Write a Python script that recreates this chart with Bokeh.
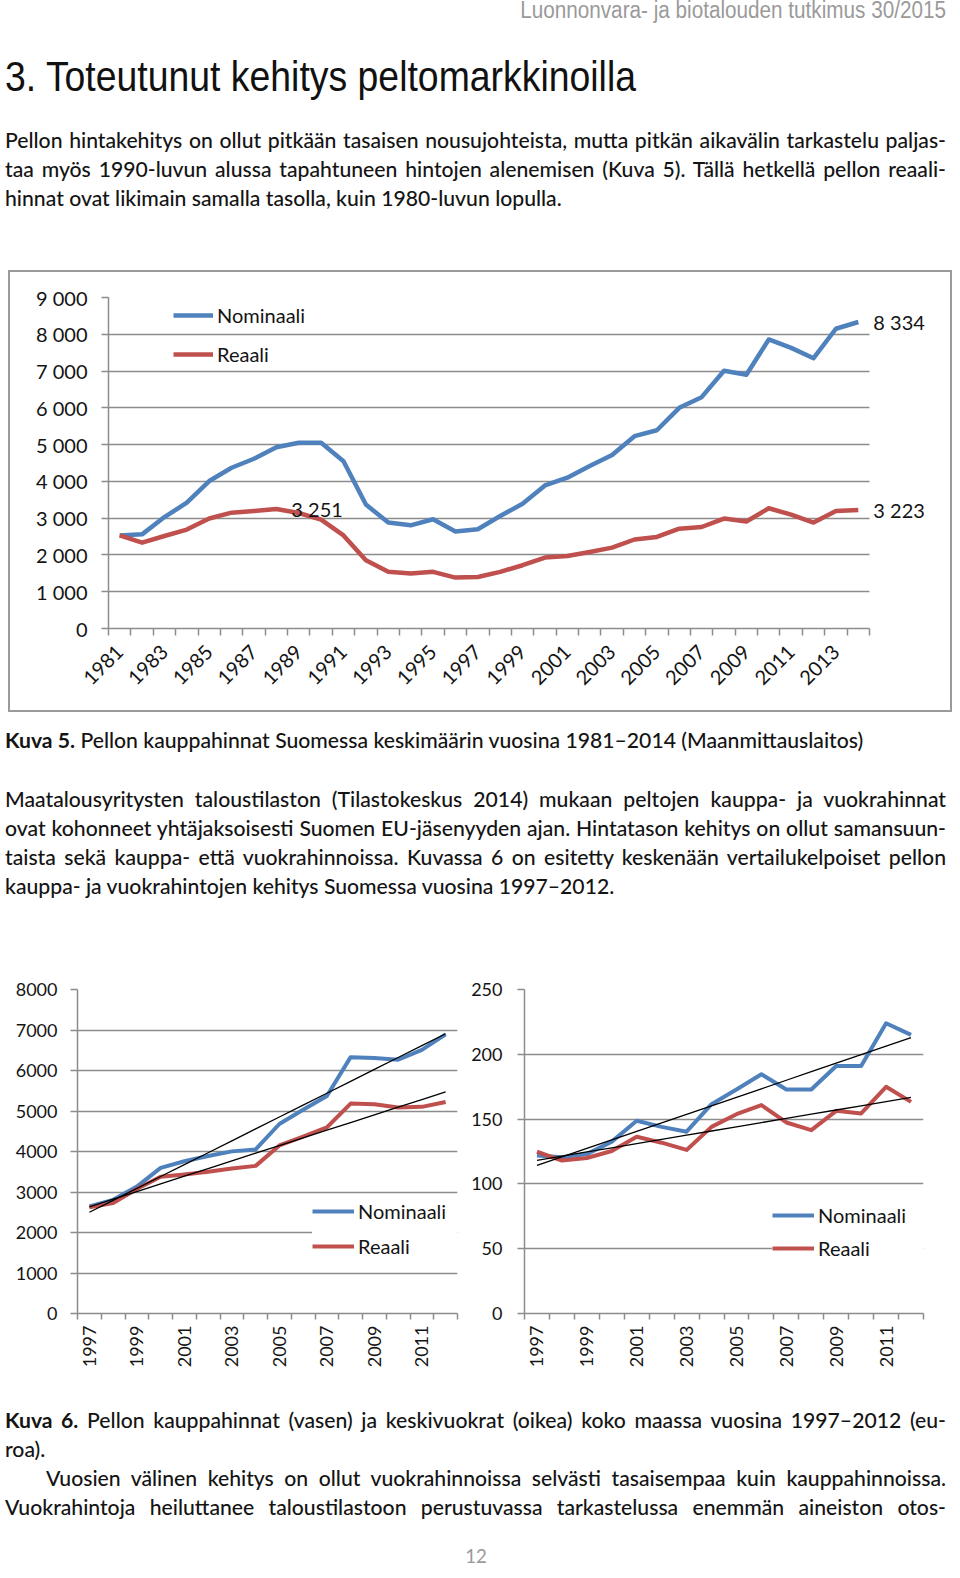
import math
import numpy as np
from bokeh.plotting import figure
from bokeh.models import Div, Range1d, FixedTicker, CustomJSTickFormatter, Label
from bokeh.layouts import column, row
from bokeh.embed import file_html
from bokeh.resources import INLINE

# ---------------- data ----------------
years_k5 = list(range(1981, 2015))
nominaali_k5 = [2530, 2560, 3030, 3420, 4010, 4370, 4615, 4930, 5050, 5050,
                4550, 3370, 2880, 2805, 2970, 2640, 2700, 3060, 3390, 3890,
                4100, 4420, 4720, 5230, 5390, 6000, 6290, 7010, 6900, 7860,
                7630, 7350, 8150, 8334]
reaali_k5 = [2530, 2335, 2515, 2690, 2990, 3150, 3195, 3251, 3140, 2960,
             2530, 1855, 1540, 1495, 1540, 1385, 1400, 1540, 1720, 1930,
             1970, 2080, 2200, 2420, 2490, 2715, 2760, 2990, 2910, 3270,
             3095, 2880, 3195, 3223]
label_years_k5 = list(range(1981, 2014, 2))
y_ticks_k5 = list(range(0, 9001, 1000))
labelled_year_k5 = 1988   # real-price peak of the 1980s carries a data label

years_k6 = list(range(1997, 2013))
kauppa_nominaali = [2645, 2807, 3133, 3596, 3760, 3890, 4003, 4052,
                    4679, 5029, 5370, 6330, 6306, 6265, 6510, 6892]
kauppa_reaali = [2620, 2726, 3076, 3377, 3434, 3499, 3580, 3645,
                 4150, 4370, 4597, 5183, 5167, 5085, 5102, 5224]
vuokra_nominaali = [122, 120.5, 123, 132.6, 148.7, 144, 140.3, 161.5,
                    172.8, 184.6, 172.8, 172.8, 191, 191, 224, 215]
vuokra_reaali = [124.8, 118, 120, 125.4, 136.4, 131.8, 126.2, 144,
                 153.8, 160.8, 147.4, 141.5, 156.4, 154.4, 174.9, 163.3]
label_years_k6 = list(range(1997, 2012, 2))
y_ticks_kauppa = list(range(0, 8001, 1000))
y_ticks_vuokra = list(range(0, 251, 50))

series_names = ["Nominaali", "Reaali"]

# ---------------- styles ----------------
BLUE = "#4F81BD"
RED = "#C0504D"
GRID = "#8C8C8C"
TXT = "#141414"
GREY_TXT = "#9A9A9A"
CHART_FONT = "Lato"
FONT_METRICS = {"Lato": (0.987, 0.213), "Liberation Sans": (0.905, 0.212)}


def fmt_space(v):
    return f"{int(round(v)):,}".replace(",", " ")


def make_chart(width, height, years, label_years, yticks, borders, font_px,
               orient, tick_out_x, x_standoff, y_standoff, thousands=False,
               transparent=False, styles=None, x_end=None):
    kw = {}
    if styles:
        kw["styles"] = styles
    x0, x1 = years[0] - 0.5, years[-1] + 0.5
    p = figure(width=width, height=height, output_backend="svg",
               toolbar_location=None,
               x_range=Range1d(x0, x_end if x_end else x1),
               y_range=Range1d(yticks[0], yticks[-1]),
               min_border_left=borders[0], min_border_right=borders[1],
               min_border_top=borders[2], min_border_bottom=borders[3],
               margin=0, **kw)
    p.outline_line_color = None
    if transparent:
        p.border_fill_color = None
        p.background_fill_color = None
    else:
        p.border_fill_color = "white"
        p.background_fill_color = "white"

    xa = p.xaxis[0]
    xa.bounds = (x0, x1)
    xa.ticker = FixedTicker(ticks=label_years,
                            minor_ticks=[y - 0.5 for y in years] + [x1])
    xa.major_tick_line_color = None
    xa.major_tick_out = tick_out_x
    xa.major_tick_in = 0
    xa.minor_tick_line_color = GRID
    xa.minor_tick_line_width = 1.5
    xa.minor_tick_out = tick_out_x
    xa.minor_tick_in = 0
    xa.axis_line_color = GRID
    xa.axis_line_width = 1.5
    xa.major_label_orientation = orient
    xa.major_label_standoff = x_standoff
    xa.major_label_text_font = CHART_FONT
    xa.major_label_text_font_size = f"{font_px}px"
    xa.major_label_text_color = TXT
    p.xgrid.visible = False

    ya = p.yaxis[0]
    ya.ticker = FixedTicker(ticks=yticks)
    ya.minor_tick_line_color = None
    ya.major_tick_line_color = GRID
    ya.major_tick_line_width = 1.5
    ya.major_tick_out = 7
    ya.major_tick_in = 0
    ya.axis_line_color = GRID
    ya.axis_line_width = 1.5
    ya.major_label_standoff = y_standoff
    ya.major_label_text_font = CHART_FONT
    ya.major_label_text_font_size = f"{font_px}px"
    ya.major_label_text_color = TXT
    if thousands:
        ya.formatter = CustomJSTickFormatter(
            code="return String(Math.round(tick)).replace(/\\B(?=(\\d{3})+(?!\\d))/g, ' ');")
    p.ygrid.grid_line_color = GRID
    p.ygrid.grid_line_width = 1.5
    if x_end:
        try:
            p.ygrid.cross_bounds = (x0, x1)
        except AttributeError:
            p.ygrid.visible = False
            p.segment(x0=[x0] * len(yticks), x1=[x1] * len(yticks),
                      y0=yticks, y1=yticks, line_color=GRID, line_width=1.5,
                      level="underlay")
    return p


def style_legend(p, loc, spacing, padding, bg, font_px, glyph_w, label_w=20):
    lg = p.legend[0]
    lg.location = loc
    lg.margin = 0
    lg.padding = padding
    lg.spacing = spacing
    lg.glyph_width = glyph_w
    lg.glyph_height = 24
    lg.label_height = 24
    lg.label_width = label_w
    lg.label_standoff = 4
    lg.label_text_font = CHART_FONT
    lg.label_text_font_size = f"{font_px}px"
    lg.label_text_color = TXT
    lg.border_line_color = None
    if bg:
        lg.background_fill_color = "white"
        lg.background_fill_alpha = 1.0
    else:
        lg.background_fill_alpha = 0.0


# ---------------- Kuva 5 ----------------
# frame extends right of the category axis to make room for the end labels
k5_span = len(years_k5)
k5_x_end = years_k5[0] - 0.5 + k5_span * (944 - 100 - 2) / 761.0
fig1 = make_chart(944, 442, years_k5, label_years_k5, y_ticks_k5,
                  (100, 2, 27, 84), 20, math.pi / 4, 7, 13, 14,
                  thousands=True, transparent=True,
                  styles={"outline": "2px solid #9A9A9A", "outline-offset": "-2px"},
                  x_end=k5_x_end)
fig1.line(years_k5, nominaali_k5, line_color=BLUE, line_width=4.5,
          line_join="round", legend_label=series_names[0])
fig1.line(years_k5, reaali_k5, line_color=RED, line_width=4.5,
          line_join="round", legend_label=series_names[1])
style_legend(fig1, (65, 262), 15, 0, False, 20, 40)

i_lab = years_k5.index(labelled_year_k5)
for xv, yv in [(years_k5[i_lab], reaali_k5[i_lab]),
               (years_k5[-1], nominaali_k5[-1]),
               (years_k5[-1], reaali_k5[-1])]:
    fig1.add_layout(Label(x=xv, y=yv, text=fmt_space(yv), x_offset=15,
                          text_align="left", text_baseline="middle",
                          text_font=CHART_FONT, text_font_size="20px",
                          text_color=TXT))

# ---------------- Kuva 6 ----------------
def trend(years, vals):
    c = np.polyfit(np.array(years, dtype=float), np.array(vals, dtype=float), 1)
    return list(np.polyval(c, np.array(years, dtype=float)))


fig2 = make_chart(454, 415, years_k6, label_years_k6, y_ticks_kauppa,
                  (69, 5, 26, 62), 18, math.pi / 2, 6, 6, 13)
fig2.line(years_k6, kauppa_nominaali, line_color=BLUE, line_width=4,
          line_join="round", legend_label=series_names[0])
fig2.line(years_k6, kauppa_reaali, line_color=RED, line_width=4,
          line_join="round", legend_label=series_names[1])
fig2.line(years_k6, trend(years_k6, kauppa_nominaali), line_color="black", line_width=1.3)
fig2.line(years_k6, trend(years_k6, kauppa_reaali), line_color="black", line_width=1.3)
style_legend(fig2, (235, 55), 11, 7, True, 20, 42, label_w=105)

fig3 = make_chart(490, 415, years_k6, label_years_k6, y_ticks_vuokra,
                  (62, 29, 29, 61), 18, math.pi / 2, 6, 6, 15)
fig3.line(years_k6, vuokra_nominaali, line_color=BLUE, line_width=4,
          line_join="round", legend_label=series_names[0])
fig3.line(years_k6, vuokra_reaali, line_color=RED, line_width=4,
          line_join="round", legend_label=series_names[1])
fig3.line(years_k6, trend(years_k6, vuokra_nominaali), line_color="black", line_width=1.3)
fig3.line(years_k6, trend(years_k6, vuokra_reaali), line_color="black", line_width=1.3)
style_legend(fig3, (248, 53), 9, 7, True, 20, 42, label_w=110)

# ---------------- prose ----------------
BODY = 21.5
BODY_SX = 0.985


def text_block(items, block_top, height):
    parts = []
    for it in items:
        size = it.get("size", BODY)
        fam = it.get("font", "Lato")
        asc, desc = FONT_METRICS[fam]
        lh = size * 1.4
        base_off = ((1.4 - (asc + desc)) / 2 + asc) * size
        top = it["base"] - base_off - block_top
        sx = it.get("sx", BODY_SX)
        st = ["position:absolute", f"top:{top:.2f}px", f"font-family:'{fam}'",
              f"font-size:{size}px", f"line-height:{lh:.2f}px",
              f"font-weight:{it.get('weight', 500)}",
              f"color:{it.get('color', TXT)}", "white-space:nowrap",
              "margin:0", "padding:0", f"transform:scaleX({sx})"]
        align = it.get("align", "left")
        if align == "justify":
            st += [f"left:{it['x'] - 8}px", f"width:{it['w'] / sx:.2f}px",
                   "text-align:justify", "text-align-last:justify",
                   "transform-origin:0 0"]
        elif align == "right":
            st += [f"left:{it['x'] - 8 - 700}px", "width:700px",
                   "text-align:right", "transform-origin:100% 0"]
        elif align == "center":
            st += [f"left:{it['x'] - 8 - 150}px", "width:300px",
                   "text-align:center", "transform-origin:50% 0"]
        else:
            st += [f"left:{it['x'] - 8}px", "transform-origin:0 0"]
        parts.append(f'<div style="{";".join(st)}">{it["text"]}</div>')
    html = (f'<div style="position:relative;width:944px;height:{height}px">'
            + "".join(parts) + "</div>")
    return Div(text=html, width=944, height=height, margin=0,
               styles={"overflow": "visible"})


FULLW = 941
blockA = text_block([
    dict(text="Luonnonvara- ja biotalouden tutkimus 30/2015", x=946, base=18,
         font="Liberation Sans", size=23, sx=0.9, align="right", color=GREY_TXT,
         weight=400),
    dict(text="3. Toteutunut kehitys peltomarkkinoilla", x=5, base=92,
         font="Liberation Sans", size=42, sx=0.89, color="#111111", weight=400),
    dict(text="Pellon hintakehitys on ollut pitkään tasaisen nousujohteista, mutta pitkän aikavälin tarkastelu paljas-",
         x=5, base=148, w=FULLW, align="justify"),
    dict(text="taa myös 1990-luvun alussa tapahtuneen hintojen alenemisen (Kuva 5). Tällä hetkellä pellon reaali-",
         x=5, base=177, w=FULLW, align="justify"),
    dict(text="hinnat ovat likimain samalla tasolla, kuin 1980-luvun lopulla.",
         x=5, base=206),
], 8, 262)

blockB = text_block([
    dict(text="<b>Kuva 5.</b> Pellon kauppahinnat Suomessa keskimäärin vuosina 1981–2014 (Maanmittauslaitos)",
         x=5, base=748),
    dict(text="Maatalousyritysten taloustilaston (Tilastokeskus 2014) mukaan peltojen kauppa- ja vuokrahinnat",
         x=5, base=807, w=FULLW, align="justify"),
    dict(text="ovat kohonneet yhtäjaksoisesti Suomen EU-jäsenyyden ajan. Hintatason kehitys on ollut samansuun-",
         x=5, base=836, w=FULLW, align="justify"),
    dict(text="taista sekä kauppa- että vuokrahinnoissa. Kuvassa 6 on esitetty keskenään vertailukelpoiset pellon",
         x=5, base=865, w=FULLW, align="justify"),
    dict(text="kauppa- ja vuokrahintojen kehitys Suomessa vuosina 1997–2012.",
         x=5, base=894),
], 712, 248)

blockC = text_block([
    dict(text="<b>Kuva 6.</b> Pellon kauppahinnat (vasen) ja keskivuokrat (oikea) koko maassa vuosina 1997–2012 (eu-",
         x=5, base=1428, w=FULLW, align="justify"),
    dict(text="roa).", x=5, base=1457),
    dict(text="Vuosien välinen kehitys on ollut vuokrahinnoissa selvästi tasaisempaa kuin kauppahinnoissa.",
         x=46, base=1486, w=900, align="justify"),
    dict(text="Vuokrahintoja heiluttanee taloustilastoon perustuvassa tarkastelussa enemmän aineiston otos-",
         x=5, base=1515, w=FULLW, align="justify"),
    dict(text="12", x=476, base=1564, size=19, align="center", color=GREY_TXT, weight=400),
], 1375, 192)

page = column(blockA, fig1, blockB, row(fig2, fig3, spacing=0, margin=0),
              blockC, spacing=0, margin=(8, 0, 0, 8))

with open("out.html", "w") as f:
    f.write(file_html(page, INLINE))
